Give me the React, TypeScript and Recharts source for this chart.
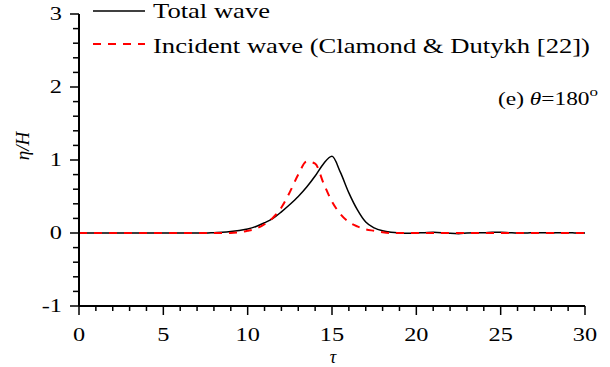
import { LineChart, Line, XAxis, YAxis, Legend } from "recharts"

const tau = [
  0, 0.5, 1, 1.5, 2, 2.5, 3, 3.5, 4, 4.5, 5, 5.5, 6, 6.5, 7, 7.5, 8, 8.5, 9, 9.5,
  10, 10.5, 11, 11.5, 12, 12.5, 13, 13.5, 14, 14.5, 15, 15.5, 16, 16.5, 17, 17.5, 18, 18.5, 19, 19.5,
  20, 20.5, 21, 21.5, 22, 22.5, 23, 23.5, 24, 24.5, 25, 25.5, 26, 26.5, 27, 27.5, 28, 28.5, 29, 29.5, 30,
]

const totalWave = [
  0, 0, 0, 0, 0, 0, 0, 0, 0, 0, 0, 0, 0, 0, 0, 0, 0.005, 0.01, 0.02, 0.035,
  0.055, 0.09, 0.14, 0.2, 0.29, 0.39, 0.5, 0.63, 0.78, 0.95, 1.05, 0.83, 0.55, 0.32, 0.15, 0.07, 0.03, 0.01, 0, -0.005,
  0, 0.005, 0.01, 0.005, -0.005, -0.01, 0, 0.005, 0.005, 0.01, 0.01, 0.005, 0, 0, 0.005, 0.005, 0, 0.005, 0.005, 0, 0,
]

const incidentWave = [
  0, 0, 0, 0, 0, 0, 0, 0, 0, 0, 0, 0, 0, 0, 0, 0, 0, 0, 0, 0.01,
  0.03, 0.06, 0.12, 0.21, 0.35, 0.56, 0.8, 0.98, 0.95, 0.68, 0.43, 0.26, 0.15, 0.09, 0.05, 0.03, 0.01, 0, 0, 0,
  0, 0, 0, 0, 0, 0, 0, 0, 0, 0, 0, 0, 0, 0, 0, 0, 0, 0, 0, 0, 0,
]

const xTicks = [
  0, 1, 2, 3, 4, 5, 6, 7, 8, 9, 10, 11, 12, 13, 14, 15, 16, 17, 18, 19, 20,
  21, 22, 23, 24, 25, 26, 27, 28, 29, 30,
]
const yTicks = [
  -1, -0.8, -0.6, -0.4, -0.2, 0, 0.2, 0.4, 0.6, 0.8, 1, 1.2, 1.4, 1.6, 1.8, 2,
  2.2, 2.4, 2.6, 2.8, 3,
]

const data = tau.map((t, i) => ({ tau: t, total: totalWave[i], incident: incidentWave[i] }))

const FONT = "Times New Roman, Liberation Serif, Times, serif"

function XTick(props: any) {
  const { x, y, payload } = props
  const major = payload.value % 5 === 0
  return (
    <g>
      <line x1={x} x2={x} y1={y} y2={y + (major ? 9 : 5)} stroke="#000" strokeWidth={1.5} />
      {major && (
        <text transform={`translate(${x},${y + 35}) scale(1.35,1)`} textAnchor="middle"
          fontFamily={FONT} fontSize={18} fill="#000">{payload.value}</text>
      )}
    </g>
  )
}

function YTick(props: any) {
  const { x, y, payload } = props
  const major = Number.isInteger(payload.value)
  return (
    <g>
      <line x1={x - (major ? 9 : 6)} x2={x} y1={y} y2={y} stroke="#000" strokeWidth={1.5} />
      {major && (
        <text transform={`translate(${x - 17},${y + 6}) scale(1.35,1)`} textAnchor="end"
          fontFamily={FONT} fontSize={18} fill="#000">{payload.value}</text>
      )}
    </g>
  )
}

function LegendBox() {
  return (
    <svg width={610} height={60} style={{ display: "block" }}>
      <line x1={93} x2={145} y1={11} y2={11} stroke="#000" strokeWidth={1.5} />
      <text x={153} y={18} fontFamily={FONT} fontSize={21} fill="#000"
        textLength={117} lengthAdjust="spacingAndGlyphs">Total wave</text>
      <line x1={93} x2={145} y1={44} y2={44} stroke="#ff0000" strokeWidth={2} strokeDasharray="8 7" />
      <text x={153} y={53} fontFamily={FONT} fontSize={21} fill="#000"
        textLength={437} lengthAdjust="spacingAndGlyphs">Incident wave (Clamond &amp; Dutykh [22])</text>
    </svg>
  )
}

function XLabel() {
  return (
    <g>
      <text x={333} y={363} textAnchor="middle" fontFamily={FONT} fontSize={18}
        fontStyle="italic" fill="#000">τ</text>
      <text transform="translate(498,105) scale(1.3,1)" fontFamily={FONT} fontSize={18} fill="#000">
        (e) <tspan fontStyle="italic">θ</tspan>=180<tspan fontSize={13} dy={-9}>o</tspan>
      </text>
    </g>
  )
}

function YLabel() {
  return (
    <text transform="translate(29,146) rotate(-90)" textAnchor="middle" fontFamily={FONT}
      fontSize={19} fontStyle="italic" fill="#000">η/H</text>
  )
}

export default function App() {
  return (
    <div style={{ position: "absolute", left: 0, top: 0 }}>
      <LineChart width={610} height={367} data={data} margin={{ top: 14, right: 25, left: 0, bottom: 0 }}>
        <XAxis dataKey="tau" type="number" domain={[0, 30]} ticks={xTicks} interval={0}
          height={61} tickSize={0} tickMargin={0} tickLine={false} tick={<XTick />}
          axisLine={{ stroke: "#000", strokeWidth: 2 }} label={{ content: <XLabel /> }} />
        <YAxis type="number" domain={[-1, 3]} ticks={yTicks} interval={0} width={79}
          tickSize={0} tickMargin={0} tickLine={false} tick={<YTick />}
          axisLine={{ stroke: "#000", strokeWidth: 2 }} label={{ content: <YLabel /> }} />
        <Legend layout="horizontal" verticalAlign="middle" align="center"
          wrapperStyle={{ left: 0, top: 0, width: 610, height: 60 }} content={<LegendBox />} />
        <Line type="monotone" dataKey="total" name="Total wave" stroke="#000" strokeWidth={1.5}
          dot={false} activeDot={false} isAnimationActive={false} />
        <Line type="monotone" dataKey="incident" name="Incident wave (Clamond & Dutykh [22])"
          stroke="#ff0000" strokeWidth={2} strokeDasharray="8 7" dot={false} activeDot={false}
          isAnimationActive={false} />
      </LineChart>
    </div>
  )
}
